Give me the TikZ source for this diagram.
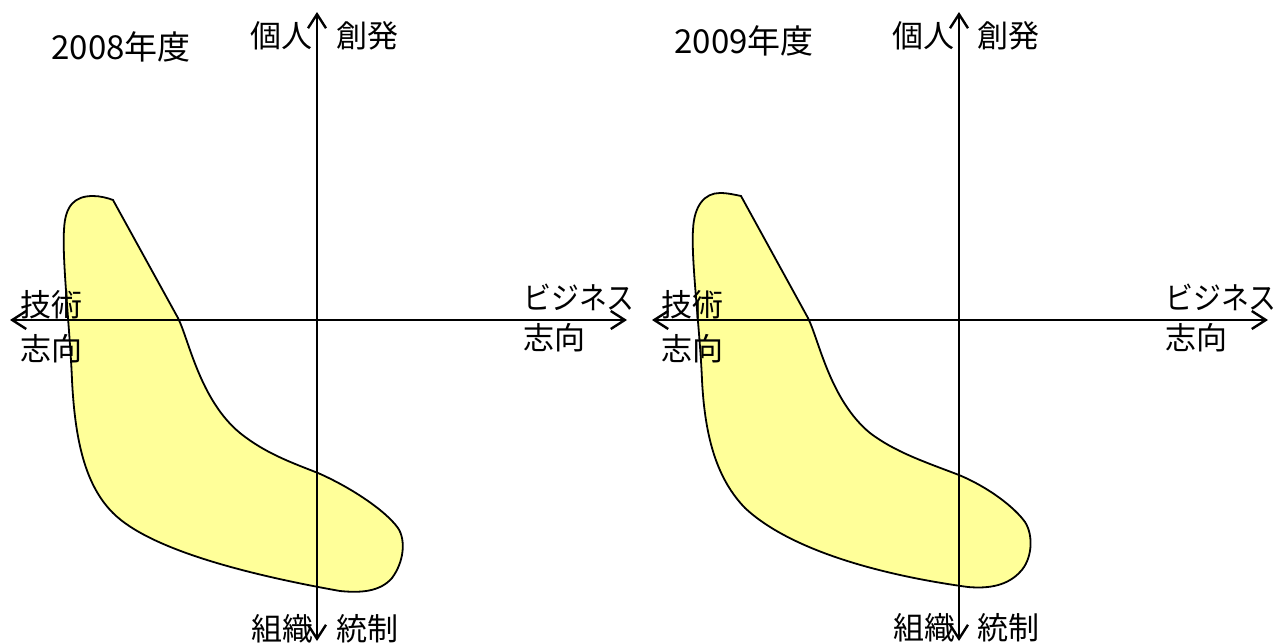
\documentclass[tikz,border=0pt]{standalone}
\usepackage{fontspec}
\setmainfont{Noto Sans CJK JP}
\usetikzlibrary{arrows.meta}
\definecolor{blobyellow}{HTML}{FFFF99}
\begin{document}
\begin{tikzpicture}[x=1pt,y=-1pt,
  axis/.style={line width=2.4pt,{Straight Barb[length=14pt,width=18pt]}-{Straight Barb[length=14pt,width=18pt]}},
  blob/.style={fill=blobyellow,draw=black,line width=1.8pt,line join=miter},
  lbl/.style={font=\fontsize{31}{31}\selectfont,inner sep=0pt},
  ttl/.style={font=\fontsize{33}{33}\selectfont,inner sep=0pt}]
\useasboundingbox (0,0) rectangle (1275,643);

% ---- left panel ----
\draw[blob] (113,200) -- (178,318)
  .. controls (189,340) and (200,400) .. (240,433)
  .. controls (265,453) and (290,462) .. (318,473)
  .. controls (350,487) and (385,510) .. (398,528)
  .. controls (406,540) and (404,562) .. (392,578)
  .. controls (380,592) and (360,593) .. (340,591)
  .. controls (250,575) and (150,550) .. (113,513)
  .. controls (85,485) and (75,440) .. (72,380)
  .. controls (70,330) and (62,260) .. (64,230)
  .. controls (65,205) and (75,196) .. (93,196)
  .. controls (100,196) and (108,198) .. (113,200) -- cycle;

\coordinate (Ltop) at (317,12);
\coordinate (Lbot) at (317,641);
\coordinate (Lleft) at (10,320);
\coordinate (Lright) at (627,320);
\draw[axis] (Lbot) -- (Ltop);
\draw[axis] (Lleft) -- (Lright);

\node[ttl] (Ltitle) at (121,47) {2008年度};
\node[lbl] (Lkojin) at (281,36) {個人};
\node[lbl] (Lsohatsu) at (367,36) {創発};
\node[lbl] (Lsoshiki) at (282,629) {組織};
\node[lbl] (Ltosei) at (367,629) {統制};
\node[lbl] (Lgijutsu) at (51,305) {技術};
\node[lbl] (Lshiko) at (51,349) {志向};
\node[lbl,anchor=west] (Lbiz) at (523,297) {\scalebox{0.9}[1]{ビジネス}};
\node[lbl,anchor=west] (Lshiko2) at (523,338) {志向};

% ---- right panel ----
\draw[blob] (741,196) -- (808,318)
  .. controls (819,340) and (830,400) .. (870,433)
  .. controls (895,452) and (925,462) .. (959,475)
  .. controls (990,488) and (1015,508) .. (1025,522)
  .. controls (1034,536) and (1032,560) .. (1020,572)
  .. controls (1008,585) and (990,589) .. (968,587)
  .. controls (880,575) and (790,550) .. (745,508)
  .. controls (718,480) and (705,440) .. (702,380)
  .. controls (700,330) and (691,260) .. (693,230)
  .. controls (694,205) and (705,193) .. (720,193)
  .. controls (728,193) and (736,195) .. (741,196) -- cycle;

\coordinate (Rtop) at (959,12);
\coordinate (Rbot) at (959,641);
\coordinate (Rleft) at (652,320);
\coordinate (Rright) at (1268,320);
\draw[axis] (Rbot) -- (Rtop);
\draw[axis] (Rleft) -- (Rright);

\node[ttl] (Rtitle) at (744,41) {2009年度};
\node[lbl] (Rkojin) at (923,36) {個人};
\node[lbl] (Rsohatsu) at (1008,36) {創発};
\node[lbl] (Rsoshiki) at (924,628) {組織};
\node[lbl] (Rtosei) at (1008,628) {統制};
\node[lbl] (Rgijutsu) at (692,305) {技術};
\node[lbl] (Rshiko) at (692,349) {志向};
\node[lbl,anchor=west] (Rbiz) at (1165,297) {\scalebox{0.9}[1]{ビジネス}};
\node[lbl,anchor=west] (Rshiko2) at (1165,338) {志向};
\end{tikzpicture}
\end{document}
